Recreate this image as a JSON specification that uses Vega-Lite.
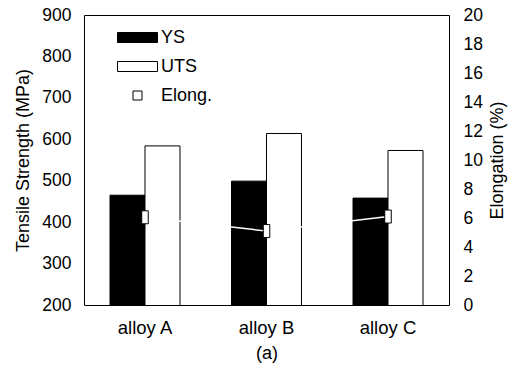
{
  "$schema": "https://vega.github.io/schema/vega-lite/v6.json",
  "width": 365,
  "height": 290,
  "autosize": "none",
  "padding": {"left": 84, "top": 15, "right": 68, "bottom": 66},
  "background": "white",
  "config": {
    "font": "Liberation Sans",
    "view": {"stroke": "black", "strokeWidth": 1},
    "axis": {
      "grid": false,
      "ticks": false,
      "domain": false,
      "labelFont": "Liberation Sans",
      "labelFontSize": 17.5,
      "labelColor": "black",
      "titleFont": "Liberation Sans",
      "titleFontSize": 18,
      "titleFontWeight": "normal",
      "titleColor": "black"
    }
  },
  "datasets": {
    "strength": [
      {"alloy": "alloy A", "series": "YS", "value": 465},
      {"alloy": "alloy A", "series": "UTS", "value": 584},
      {"alloy": "alloy B", "series": "YS", "value": 499},
      {"alloy": "alloy B", "series": "UTS", "value": 614},
      {"alloy": "alloy C", "series": "YS", "value": 458},
      {"alloy": "alloy C", "series": "UTS", "value": 573}
    ],
    "elong": [
      {"alloy": "alloy A", "series": "Elong.", "value": 6.05},
      {"alloy": "alloy B", "series": "Elong.", "value": 5.1},
      {"alloy": "alloy C", "series": "Elong.", "value": 6.1}
    ]
  },
  "layer": [
    {
      "data": {"name": "strength"},
      "mark": {"type": "bar", "stroke": "black", "strokeWidth": 1, "clip": true},
      "encoding": {
        "x": {
          "field": "alloy",
          "type": "nominal",
          "scale": {"paddingInner": 0.424, "paddingOuter": 0.214},
          "axis": {"labelAngle": 0, "title": "(a)", "labelFontSize": 18.5, "labelPadding": 13, "titlePadding": 8}
        },
        "xOffset": {"field": "series", "type": "nominal", "sort": ["YS", "UTS"]},
        "y": {
          "field": "value",
          "type": "quantitative",
          "scale": {"domain": [200, 900], "nice": false, "zero": false},
          "axis": {"title": "Tensile Strength (MPa)", "values": [200, 300, 400, 500, 600, 700, 800, 900], "labelPadding": 13, "titlePadding": 9, "orient": "left"}
        },
        "fill": {
          "field": "series",
          "type": "nominal",
          "scale": {"domain": ["YS", "UTS", "Elong."], "range": ["black", "white", "white"]},
          "legend": {
            "orient": "none",
            "legendX": 43,
            "legendY": 12,
            "title": null,
            "symbolSize": 400,
            "symbolStrokeColor": "black",
            "symbolStrokeWidth": 1,
            "symbolOpacity": 1,
            "labelFont": "Liberation Sans",
            "labelFontSize": 18,
            "labelColor": "black",
            "labelOffset": 13,
            "rowPadding": 9,
            "encode": {
              "symbols": {
                "update": {
                  "shape": {"signal": "datum.value === 'Elong.' ? 'M-0.45,-0.45H0.45V0.45H-0.45Z' : 'M-2,-0.5H2V0.5H-2Z'"}
                }
              }
            }
          }
        }
      }
    },
    {
      "data": {"name": "elong"},
      "layer": [
        {
          "mark": {"type": "line", "stroke": "white", "strokeWidth": 1.5},
          "encoding": {
            "x": {"field": "alloy", "type": "nominal"},
            "y": {"field": "value", "type": "quantitative"}
          }
        },
        {
          "mark": {"type": "point", "shape": "M-0.5,-1H0.5V1H-0.5Z", "size": 169, "filled": true, "stroke": "black", "strokeWidth": 1, "opacity": 1},
          "encoding": {
            "x": {"field": "alloy", "type": "nominal"},
            "y": {"field": "value", "type": "quantitative"},
            "fill": {"field": "series", "type": "nominal"}
          }
        }
      ],
      "encoding": {
        "y": {
          "field": "value",
          "type": "quantitative",
          "scale": {"domain": [0, 20], "nice": false},
          "axis": {"orient": "right", "title": "Elongation (%)", "titleAngle": 270, "titleBaseline": "top", "values": [0, 2, 4, 6, 8, 10, 12, 14, 16, 18, 20], "labelPadding": 14, "titlePadding": 6}
        }
      }
    }
  ],
  "resolve": {"scale": {"y": "independent"}}
}
